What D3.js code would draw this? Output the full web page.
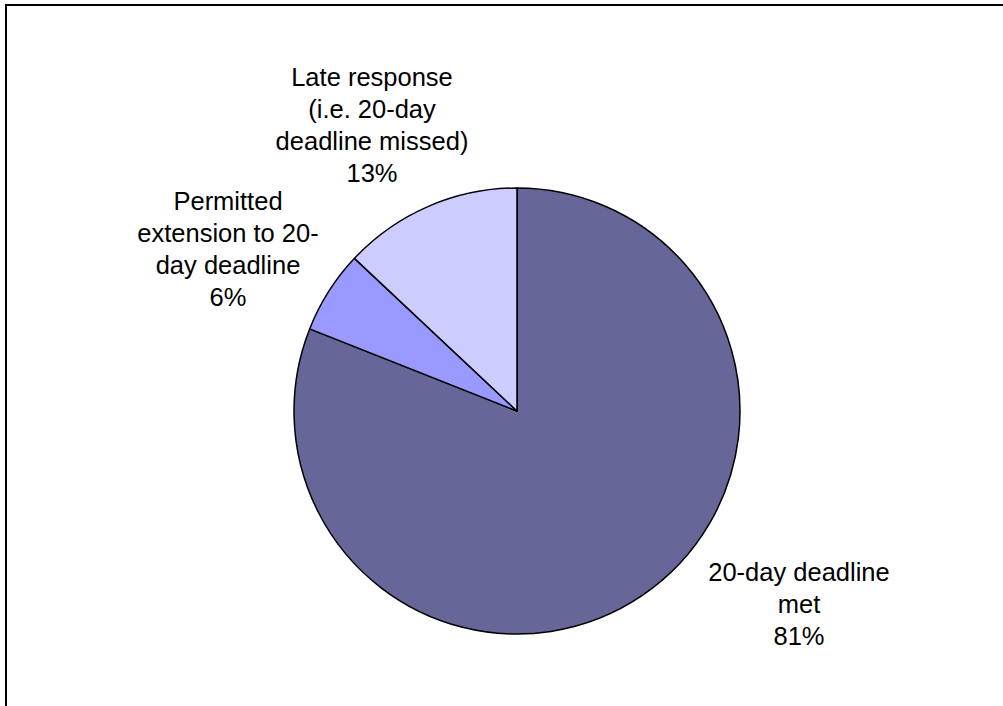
<!DOCTYPE html>
<html>
<head>
<meta charset="utf-8">
<script src="https://cdn.jsdelivr.net/npm/d3@7/dist/d3.min.js"></script>
<style>
  html, body { margin: 0; padding: 0; background: #fff; }
  svg { display: block; }
</style>
</head>
<body>
<svg id="chart" width="1003" height="706"></svg>
<script>
// Response timeliness breakdown
const categories = ["20-day deadline met", "Permitted extension to 20-day deadline", "Late response (i.e. 20-day deadline missed)"];
const shares = [81, 6, 13];
const labelLines = [
  ["20-day deadline", "met", "81%"],
  ["Permitted", "extension to 20-", "day deadline", "6%"],
  ["Late response", "(i.e. 20-day", "deadline missed)", "13%"]
];
const colors = ["#666699", "#9999FF", "#CCCCFF"];

const svg = d3.select("#chart");

// chart frame (runs off the right and bottom edges)
svg.append("rect")
  .attr("x", 6).attr("y", 5)
  .attr("width", 1100).attr("height", 800)
  .attr("fill", "none")
  .attr("stroke", "#000")
  .attr("stroke-width", 2);

const cx = 517, cy = 411, r = 223;

const pie = d3.pie().sort(null).value(d => d);
const arcs = pie(shares);
const arc = d3.arc().innerRadius(0).outerRadius(r);

const g = svg.append("g").attr("transform", `translate(${cx},${cy})`);
g.selectAll("path")
  .data(arcs)
  .join("path")
  .attr("d", arc)
  .attr("fill", (d, i) => colors[i])
  .attr("stroke", "#000")
  .attr("stroke-width", 1.5)
  .attr("stroke-linejoin", "round");

// label anchors: centre x and first baseline, placed outside each slice
const labelPos = [
  { x: 799, y: 581 },
  { x: 228, y: 210 },
  { x: 372, y: 86 }
];
const lineH = 32;

const labels = svg.append("g")
  .attr("font-family", "Liberation Sans, Arial, sans-serif")
  .attr("font-size", 25.5)
  .attr("fill", "#000")
  .attr("text-anchor", "middle");

labelLines.forEach((lines, i) => {
  const t = labels.append("text")
    .attr("x", labelPos[i].x)
    .attr("y", labelPos[i].y);
  lines.forEach((ln, j) => {
    t.append("tspan")
      .attr("x", labelPos[i].x)
      .attr("dy", j === 0 ? 0 : lineH)
      .text(ln);
  });
});
</script>
</body>
</html>
